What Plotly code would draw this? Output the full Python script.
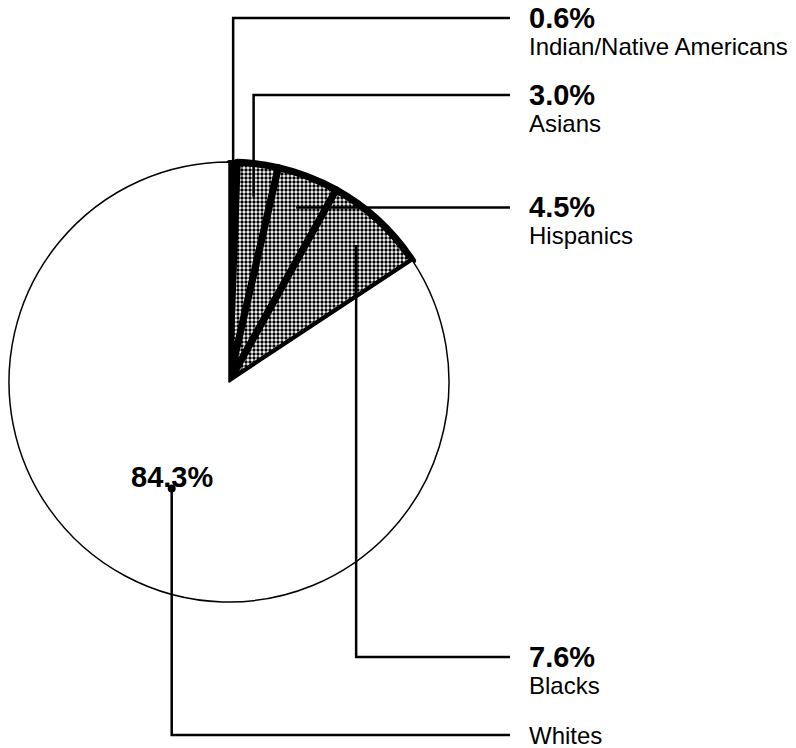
import math
import plotly.graph_objects as go

# data
groups = ["Indian/Native Americans", "Asians", "Hispanics", "Blacks", "Whites"]
shares = [0.6, 3.0, 4.5, 7.6, 84.3]
pct_labels = ["0.6%", "3.0%", "4.5%", "7.6%", "84.3%"]

W, H = 796, 748
CX, CY, R = 229, 382, 220  # pie centre / radius in pixels

# where each leader line touches its slice (fraction of radius) and
# the height (px from top) of the horizontal leg going to the label
anchor_frac = [1.0, 0.85, 0.85, 0.85, 0.55]
leg_y = [18, 95, None, 657, 735]
LABEL_X = 510


def px(x, y):
    return x / W, 1 - y / H


fig = go.Figure()
fig.add_trace(go.Pie(
    labels=groups,
    values=shares,
    sort=False,
    direction="clockwise",
    rotation=0,
    textinfo="none",
    hoverinfo="label+percent",
    showlegend=False,
    domain=dict(x=[(CX - R) / W, (CX + R) / W],
                y=[(H - CY - R) / H, (H - CY + R) / H]),
    marker=dict(
        colors=["black", "white", "white", "white", "white"],
        pattern=dict(shape=["", ".", ".", ".", ""],
                     fgcolor="black", size=4, solidity=0.55),
        line=dict(color="black", width=[4, 7, 7, 7, 1.5]),
    ),
))

font_b = dict(family="Liberation Sans, Arial, sans-serif", size=29, color="black")
font_r = dict(family="Liberation Sans, Arial, sans-serif", size=24, color="black")

total = sum(shares)
cum = 0
shapes = []
annotations = []
for i, (g, v) in enumerate(zip(groups, shares)):
    mid = (cum + v / 2) / total * 2 * math.pi
    cum += v
    ax = CX + anchor_frac[i] * R * math.sin(mid)
    ay = CY - anchor_frac[i] * R * math.cos(mid)
    y_leg = leg_y[i] if leg_y[i] is not None else ay
    pts = [(ax, ay), (ax, y_leg), (LABEL_X, y_leg)]
    path = "M " + " L ".join(f"{px(x, y)[0]},{px(x, y)[1]}" for x, y in pts)
    shapes.append(dict(type="path", path=path, xref="paper", yref="paper",
                       line=dict(color="black", width=2.5)))
    if g == "Whites":
        # dot at the anchor, big percent inside the pie
        cx, cy = px(ax, ay)
        shapes.append(dict(type="circle", xref="paper", yref="paper",
                           x0=cx - 4 / W, x1=cx + 4 / W, y0=cy - 4 / H, y1=cy + 4 / H,
                           fillcolor="black", line=dict(width=0)))
        annotations.append(dict(x=cx, y=cy, xref="paper", yref="paper",
                                text=f"<b>{pct_labels[i]}</b>", showarrow=False,
                                xanchor="center", yanchor="bottom", yshift=-6,
                                font=font_b))
        annotations.append(dict(x=(LABEL_X + 17) / W, y=1 - y_leg / H,
                                xref="paper", yref="paper", text=g,
                                showarrow=False, xanchor="left", yanchor="middle",
                                font=font_r))
    else:
        annotations.append(dict(x=(LABEL_X + 17) / W, y=1 - y_leg / H,
                                xref="paper", yref="paper",
                                text=f"<b>{pct_labels[i]}</b>", showarrow=False,
                                xanchor="left", yanchor="middle", font=font_b))
        annotations.append(dict(x=(LABEL_X + 17) / W, y=1 - (y_leg + 28) / H,
                                xref="paper", yref="paper", text=g,
                                showarrow=False, xanchor="left", yanchor="middle",
                                font=font_r))

fig.update_layout(
    width=W, height=H,
    margin=dict(l=0, r=0, t=0, b=0),
    paper_bgcolor="white",
    plot_bgcolor="white",
    shapes=shapes,
    annotations=annotations,
)

fig.write_html("out.html", config={"displayModeBar": False},
               post_script="document.body.style.margin='0';")
